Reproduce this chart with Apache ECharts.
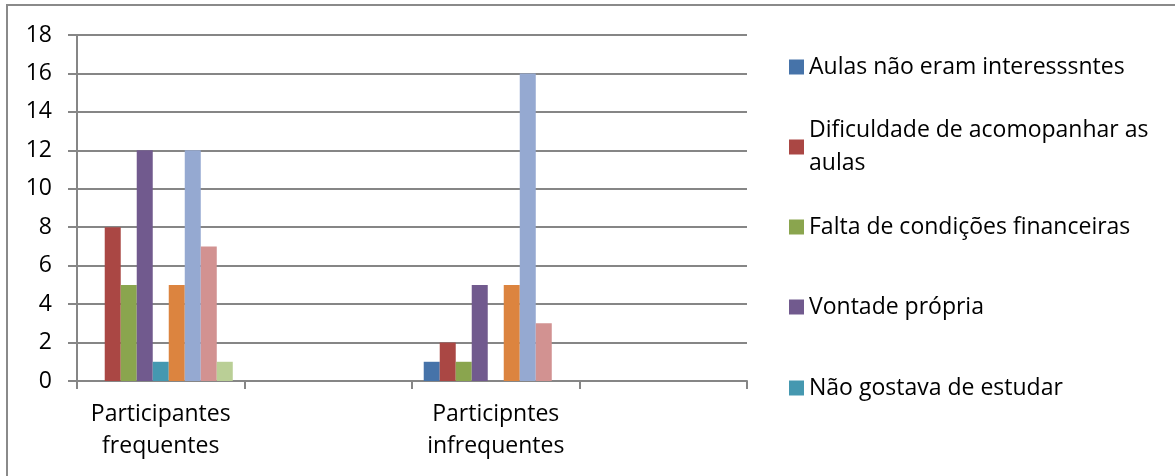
<!DOCTYPE html>
<html>
<head>
<meta charset="utf-8">
<script src="https://cdn.jsdelivr.net/npm/echarts@6/dist/echarts.min.js"></script>
<style>
  html, body { margin: 0; padding: 0; background: #fff; }
  #chart { width: 1175px; height: 476px; }
</style>
</head>
<body>
<div id="chart"></div>
<script>
// Category slots (two empty slots keep the groups apart)
const categories = ['Participantes frequentes', '', 'Participntes infrequentes', ''];

// Tick labels of the value axis
const yTicks = { min: 0, max: 18, interval: 2 };

// Reasons for leaving (series names)
const seriesNames = [
  'Aulas não eram interesssntes',
  'Dificuldade de acomopanhar as aulas',
  'Falta de condições financeiras',
  'Vontade própria',
  'Não gostava de estudar',
  'Série 6',
  'Série 7',
  'Série 8',
  'Série 9'
];

// Counts per slot
const aulasNaoInteressantes = [null, null, 1, null];
const dificuldadeAcompanhar = [8, null, 2, null];
const faltaCondicoes       = [5, null, 1, null];
const vontadePropria       = [12, null, 5, null];
const naoGostavaEstudar    = [1, null, null, null];
const serie6               = [5, null, 5, null];
const serie7               = [12, null, 16, null];
const serie8               = [7, null, 3, null];
const serie9               = [1, null, null, null];

const seriesValues = [
  aulasNaoInteressantes, dificuldadeAcompanhar, faltaCondicoes, vontadePropria,
  naoGostavaEstudar, serie6, serie7, serie8, serie9
];

const colors = ['#4673a9', '#aa4744', '#8aa54e', '#715a8e', '#4598b0',
                '#dc843f', '#95a9d1', '#d29291', '#bacf96'];

const FONT = '"Open Sans"';
const FONT_SIZE = 23;
const GRID = '#868686';

// Legend rows: vertical centre of each entry's first line
const legendRows = [67, 147, 227, 307, 388];
const LINE_H = 33;

const legends = legendRows.map((cy, i) => {
  const name = seriesNames[i];
  const twoLines = name === 'Dificuldade de acomopanhar as aulas';
  return {
    orient: 'vertical',
    left: 789,
    top: twoLines ? cy - LINE_H * 1.5 : cy - LINE_H / 2,
    padding: 0,
    itemWidth: 15,
    itemHeight: 15,
    icon: 'rect',
    selectedMode: false,
    data: [name],
    formatter: n => twoLines ? 'Dificuldade de acomopanhar as\naulas' : n,
    textStyle: {
      fontFamily: FONT,
      fontSize: FONT_SIZE,
      color: '#000',
      lineHeight: LINE_H,
      padding: twoLines ? [LINE_H, 0, 0, 0] : 0
    }
  };
});

const chart = echarts.init(document.getElementById('chart'), null, { renderer: 'canvas' });

chart.setOption({
  animation: false,
  color: colors,
  textStyle: { fontFamily: FONT },
  grid: { left: 77, right: 428, top: 35, bottom: 95, containLabel: false },
  legend: legends,
  graphic: [
    {
      type: 'rect',
      shape: { x: 7, y: 5, width: 1300, height: 600 },
      style: { fill: 'none', stroke: '#8a8a8a', lineWidth: 2 },
      silent: true,
      z: -1
    }
  ],
  xAxis: {
    type: 'category',
    data: categories,
    boundaryGap: true,
    axisLine: { show: true, lineStyle: { color: GRID, width: 2 } },
    axisTick: { show: true, length: 8, lineStyle: { color: GRID, width: 2 } },
    axisLabel: {
      interval: 0,
      margin: 17,
      color: '#000',
      fontFamily: FONT,
      fontSize: FONT_SIZE,
      lineHeight: 32,
      formatter: v => v.replace(' ', '\n')
    }
  },
  yAxis: {
    type: 'value',
    min: yTicks.min,
    max: yTicks.max,
    interval: yTicks.interval,
    axisLine: { show: true, lineStyle: { color: GRID, width: 2 } },
    axisTick: { show: true, length: 9, lineStyle: { color: GRID, width: 2 } },
    splitLine: { show: true, lineStyle: { color: GRID, width: 2 } },
    axisLabel: { margin: 25, color: '#000', fontFamily: FONT, fontSize: FONT_SIZE }
  },
  series: seriesNames.map((name, i) => ({
    name,
    type: 'bar',
    data: seriesValues[i],
    barGap: '0%',
    barCategoryGap: '14%',
    itemStyle: { color: colors[i] }
  }))
});
</script>
</body>
</html>
